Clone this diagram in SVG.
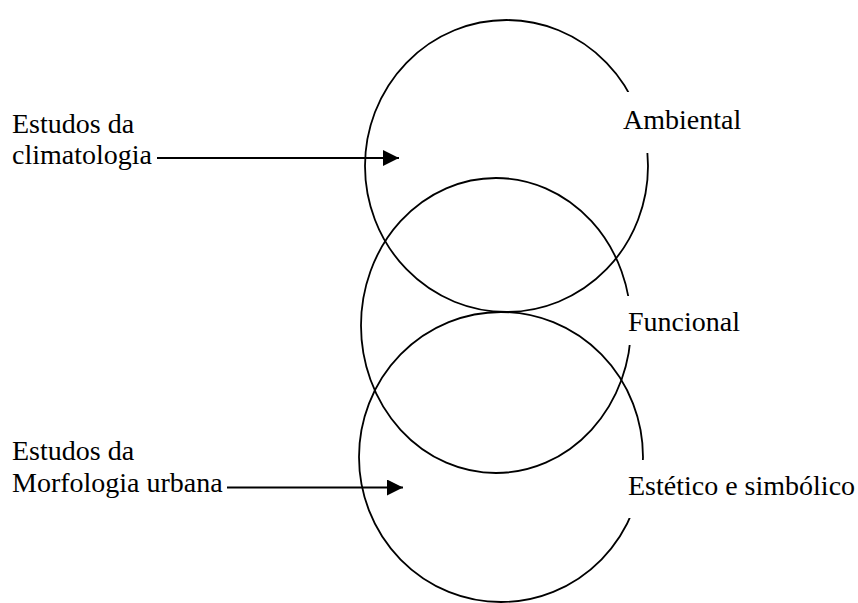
<svg xmlns="http://www.w3.org/2000/svg" width="858" height="603" viewBox="0 0 858 603">
<style>
.c{fill:none;stroke:#000;stroke-width:1.8}
.t{font-family:'Liberation Serif','Times New Roman',Times,'DejaVu Serif',serif;font-size:28px;fill:#000}
.bg{fill:#fff}
.a{stroke:#000;stroke-width:1.8;fill:none}
</style>
<defs>
<marker id="ah" markerUnits="userSpaceOnUse" markerWidth="16" markerHeight="16" refX="16" refY="8" orient="auto">
<path d="M0,0 L16,8 L0,16 Z" fill="#000"/>
</marker>
</defs>
<rect width="858" height="603" fill="#fff"/>
<g id="circle-ambiental"><ellipse class="c" cx="506.5" cy="166" rx="141.5" ry="146"/></g>
<g id="circle-funcional"><ellipse class="c" cx="496" cy="325.5" rx="135" ry="147.5"/></g>
<g id="circle-estetico"><ellipse class="c" cx="501" cy="457" rx="142" ry="145"/></g>
<g id="label-ambiental"><rect class="bg" x="618" y="92" width="140" height="61"/><text class="t" x="623" y="129">Ambiental</text></g>
<g id="label-funcional"><rect class="bg" x="618" y="296" width="140" height="49"/><text class="t" x="628" y="331">Funcional</text></g>
<g id="label-estetico"><rect class="bg" x="618" y="460" width="240" height="58"/><text class="t" x="628" y="495">Estético e simbólico</text></g>
<g id="label-climatologia"><text class="t" x="12" y="133">Estudos da</text><text class="t" x="12" y="164">climatologia</text></g>
<g id="label-morfologia"><text class="t" x="12" y="460">Estudos da</text><text class="t" x="12" y="492">Morfologia urbana</text></g>
<g id="connectors">
<line class="a" x1="157" y1="158" x2="399" y2="158" marker-end="url(#ah)"/>
<line class="a" x1="227" y1="487.5" x2="403" y2="487.5" marker-end="url(#ah)"/>
</g>
</svg>
